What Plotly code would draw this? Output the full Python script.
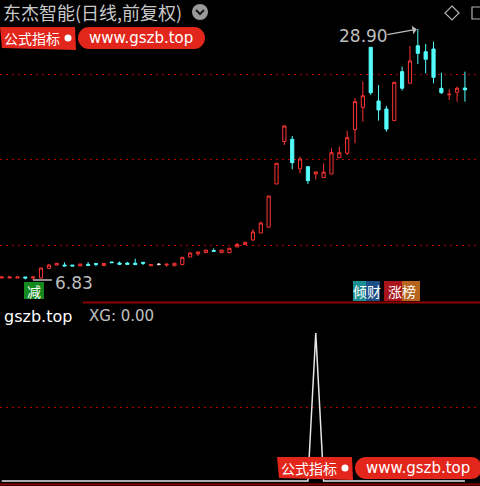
import plotly.graph_objects as go

W, H = 480, 486

# ---------------- data ----------------
candle_idx = list(range(60))
opens = [7.00, 7.00, 7.00, 7.09, 7.00, 7.00, 7.85, 8.14, 8.14, 8.14,
         8.06, 8.20, 8.28, 8.10, 8.41, 8.32, 8.32, 8.30, 8.38, 8.08,
         8.20, 8.14, 8.08, 8.18, 8.85, 9.12, 9.23, 9.42, 9.23, 9.23,
         9.73, 9.95, 10.34, 10.96, 11.47, 15.27, 19.00, 19.20, 16.60, 16.79,
         16.15, 15.83, 16.15, 17.58, 17.97, 20.05, 22.01, 27.29, 22.57, 21.86,
         20.84, 25.15, 24.13, 27.43, 26.90, 27.14, 23.68, 23.12, 23.34, 23.71]
highs = [7.09, 7.09, 7.09, 7.09, 7.09, 7.88, 8.23, 8.32, 8.38, 8.14,
         8.23, 8.41, 8.28, 8.28, 8.41, 8.45, 8.41, 8.70, 8.40, 8.18,
         8.32, 8.22, 8.30, 8.85, 9.25, 9.32, 9.46, 9.60, 9.46, 9.62,
         10.10, 10.17, 11.30, 11.95, 14.21, 17.09, 20.43, 19.49, 17.67, 16.79,
         16.33, 17.09, 18.41, 18.55, 19.96, 22.81, 24.27, 27.29, 23.97, 22.13,
         24.21, 25.59, 27.40, 28.90, 27.58, 27.78, 25.06, 23.60, 23.83, 25.15]
lows = [7.00, 7.00, 7.00, 6.88, 6.83, 6.95, 7.79, 8.14, 8.06, 8.06,
        8.06, 8.10, 8.03, 8.10, 8.35, 8.18, 8.18, 8.16, 8.14, 8.08,
        8.10, 7.99, 8.08, 8.14, 8.85, 8.96, 9.23, 9.35, 9.23, 9.23,
        9.73, 9.95, 10.30, 10.96, 11.47, 15.27, 18.70, 16.56, 16.21, 15.27,
        15.68, 15.83, 16.15, 17.58, 17.82, 18.85, 20.75, 23.10, 20.84, 19.87,
        20.84, 23.48, 24.13, 25.82, 25.00, 24.12, 23.18, 22.66, 22.51, 22.51]
closes = [7.09, 7.09, 7.09, 7.00, 7.09, 7.88, 8.14, 8.28, 8.06, 8.06,
          8.23, 8.10, 8.20, 8.28, 8.35, 8.20, 8.20, 8.18, 8.30, 8.18,
          8.20, 8.22, 8.30, 8.82, 9.20, 9.29, 9.46, 9.35, 9.46, 9.62,
          9.95, 10.15, 11.05, 11.84, 14.21, 17.09, 20.37, 17.14, 17.47, 15.56,
          16.33, 16.31, 18.02, 18.02, 19.34, 22.51, 23.03, 23.30, 21.78, 20.10,
          24.21, 23.69, 26.09, 26.76, 26.24, 24.65, 23.30, 23.16, 23.69, 23.55]
xg_values = [0, 0, 0, 0, 0, 0, 0, 0, 0, 0,
             0, 0, 0, 0, 0, 0, 0, 0, 0, 0,
             0, 0, 0, 0, 0, 0, 0, 0, 0, 0,
             0, 0, 0, 0, 0, 0, 0, 0, 0, 0,
             100, 0, 0, 0, 0, 0, 0, 0, 0, 0,
             0, 0, 0, 0, 0, 0, 0, 0, 0, 0]
price_grid = [9.90, 17.38, 24.94]
xg_grid = [50]
high_label = "28.90"
low_label = "6.83"
title_text = "东杰智能(日线,前复权)"
xg_label = "XG: 0.00"

# ---------------- styles ----------------
RED = "#FF3434"
CYAN = "#54FCFC"
BANNER = "#E3261B"
GRID = "#B40000"
CJK = "Noto Sans CJK SC"


def px(x):
    return x / W


def py(y):
    return 1 - y / H


X_RANGE = [-0.223, 60.92]
UP_RANGE = [4.89, 31.45]
LO_RANGE = [-3.38, 120.27]

is_doji = [o == c for o, c in zip(opens, closes)]


def pick(vals, keep):
    return [v if k else None for v, k in zip(vals, keep)]


normal = [not d for d in is_doji]

fig = go.Figure()
fig.add_trace(go.Candlestick(
    x=candle_idx,
    open=pick(opens, normal), high=pick(highs, normal),
    low=pick(lows, normal), close=pick(closes, normal),
    increasing=dict(line=dict(color=RED, width=1), fillcolor="black"),
    decreasing=dict(line=dict(color=CYAN, width=1), fillcolor=CYAN),
    whiskerwidth=0, xaxis="x", yaxis="y", showlegend=False, hoverinfo="skip"))
fig.add_trace(go.Candlestick(
    x=candle_idx,
    open=pick(opens, is_doji), high=pick(highs, is_doji),
    low=pick(lows, is_doji), close=pick(closes, is_doji),
    increasing=dict(line=dict(color="#E8E8E8", width=1), fillcolor="#E8E8E8"),
    decreasing=dict(line=dict(color="#E8E8E8", width=1), fillcolor="#E8E8E8"),
    whiskerwidth=0, xaxis="x", yaxis="y", showlegend=False, hoverinfo="skip"))

fig.add_trace(go.Scatter(
    x=candle_idx, y=xg_values, mode="lines",
    line=dict(color="#E6E6E6", width=1.5),
    xaxis="x2", yaxis="y2", showlegend=False, hoverinfo="skip"))

shapes = []
# separator line between panels
shapes.append(dict(type="line", xref="paper", yref="paper",
                   x0=px(83), x1=px(480), y0=py(302.5), y1=py(302.5),
                   line=dict(color="#8B0000", width=2)))
# bottom border
shapes.append(dict(type="line", xref="paper", yref="paper",
                   x0=0, x1=1, y0=py(484.5), y1=py(484.5),
                   line=dict(color="#8B0000", width=2)))


def banner(x0, y0):
    # left block "公式指标 ●" and pill "www.gszb.top"
    s = []
    s.append(dict(type="path", xref="paper", yref="paper",
                  path=f"M {px(x0)},{py(y0)} L {px(x0+75)},{py(y0)} L {px(x0+76)},{py(y0+23)} "
                       f"L {px(x0+2)},{py(y0+21)} Z",
                  fillcolor=BANNER, line=dict(width=0)))
    s.append(dict(type="circle", xref="paper", yref="paper",
                  x0=px(x0+64.5), x1=px(x0+71.5), y0=py(y0+7.5), y1=py(y0+14.5),
                  fillcolor="white", line=dict(width=0)))
    r = 11
    a, b = x0 + 78, x0 + 205
    s.append(dict(type="rect", xref="paper", yref="paper",
                  x0=px(a + r), x1=px(b - r), y0=py(y0), y1=py(y0 + 2 * r),
                  fillcolor=BANNER, line=dict(width=0)))
    s.append(dict(type="circle", xref="paper", yref="paper",
                  x0=px(a), x1=px(a + 2 * r), y0=py(y0), y1=py(y0 + 2 * r),
                  fillcolor=BANNER, line=dict(width=0)))
    s.append(dict(type="circle", xref="paper", yref="paper",
                  x0=px(b - 2 * r), x1=px(b), y0=py(y0), y1=py(y0 + 2 * r),
                  fillcolor=BANNER, line=dict(width=0)))
    return s


shapes += banner(0, 27)
shapes += banner(277, 457)

# title chevron circle
shapes.append(dict(type="circle", xref="paper", yref="paper",
                   x0=px(192), x1=px(208), y0=py(4), y1=py(20),
                   fillcolor="#9A9A9A", line=dict(width=0)))
shapes.append(dict(type="path", xref="paper", yref="paper",
                   path=f"M {px(196)},{py(10)} L {px(200)},{py(14)} L {px(204)},{py(10)}",
                   line=dict(color="#1A1A1A", width=2)))
# top-right icons
shapes.append(dict(type="path", xref="paper", yref="paper",
                   path=f"M {px(452)},{py(6)} L {px(459)},{py(13)} L {px(452)},{py(20)} L {px(445)},{py(13)} Z",
                   line=dict(color="#B0B0B0", width=1.2)))
shapes.append(dict(type="rect", xref="paper", yref="paper",
                   x0=px(472), x1=px(484), y0=py(7), y1=py(19),
                   line=dict(color="#B0B0B0", width=1.2)))
# low label leader
shapes.append(dict(type="line", xref="paper", yref="paper",
                   x0=px(33), x1=px(52), y0=py(280), y1=py(280),
                   line=dict(color="#BEBEBE", width=1.5)))
# badges
shapes.append(dict(type="rect", xref="paper", yref="paper",
                   x0=px(24), x1=px(44), y0=py(282), y1=py(299),
                   fillcolor="#138A1E", line=dict(width=0)))
shapes.append(dict(type="rect", xref="paper", yref="paper",
                   x0=px(353), x1=px(366), y0=py(281), y1=py(301),
                   fillcolor="#1B8F93", line=dict(width=0)))
shapes.append(dict(type="rect", xref="paper", yref="paper",
                   x0=px(366), x1=px(380), y0=py(281), y1=py(301),
                   fillcolor="#1C4F86", line=dict(width=0)))
shapes.append(dict(type="rect", xref="paper", yref="paper",
                   x0=px(384), x1=px(402), y0=py(281), y1=py(301),
                   fillcolor="#A8141A", line=dict(width=0)))
shapes.append(dict(type="rect", xref="paper", yref="paper",
                   x0=px(402), x1=px(420), y0=py(281), y1=py(301),
                   fillcolor="#B5651D", line=dict(width=0)))

ann = []


def text(x, y, s, size, color, family=CJK, anchor="left"):
    ann.append(dict(xref="paper", yref="paper", x=px(x), y=py(y), text=s,
                    showarrow=False, xanchor=anchor, yanchor="middle",
                    font=dict(family=family, size=size, color=color)))


text(1, 12, title_text, 18, "#C8C8C8")
text(2, 37.5, "公式指标", 14, "white")
text(141, 38, "www.gszb.top", 15, "white", family="DejaVu Sans", anchor="center")
text(279, 467.5, "公式指标", 14, "white")
text(418, 468, "www.gszb.top", 15, "white", family="DejaVu Sans", anchor="center")
text(337, 36, high_label, 17, "#BDBDBD", family="DejaVu Sans")
text(53, 283, low_label, 17, "#BDBDBD", family="DejaVu Sans")
text(34, 290.5, "减", 14, "white", anchor="center")
text(366.5, 291, "倾财", 14, "white", anchor="center")
text(402, 291, "涨榜", 14, "white", anchor="center")
text(2, 316, "gszb.top", 16, "white", family="DejaVu Sans")
text(87, 316, xg_label, 15, "#C0C0C0", family="DejaVu Sans")

# arrow to high
ann.append(dict(xref="x", yref="y", x=candle_idx[53], y=highs[53],
                ax=-32, ay=6, axref="pixel", ayref="pixel", text="",
                showarrow=True, arrowhead=1, arrowsize=1.2, arrowwidth=1.2,
                arrowcolor="#BDBDBD", standoff=1))

fig.update_layout(
    width=W, height=H, margin=dict(l=0, r=0, t=0, b=0),
    paper_bgcolor="black", plot_bgcolor="black",
    boxgap=0.42,
    xaxis=dict(domain=[0, 1], range=X_RANGE, visible=False, rangeslider=dict(visible=False),
               anchor="y"),
    yaxis=dict(domain=[py(302), 1], range=UP_RANGE, tickvals=price_grid, showticklabels=False,
               showgrid=True, gridcolor=GRID, griddash="2px,4px", gridwidth=1,
               zeroline=False, showline=False, anchor="x"),
    xaxis2=dict(domain=[0, 1], range=X_RANGE, visible=False, anchor="y2"),
    yaxis2=dict(domain=[0, py(303)], range=LO_RANGE, tickvals=xg_grid, showticklabels=False,
                showgrid=True, gridcolor=GRID, griddash="2px,4px", gridwidth=1,
                zeroline=False, showline=False, anchor="x2"),
    shapes=shapes, annotations=ann,
)

fig.write_html("out.html",
               config={"displayModeBar": False, "staticPlot": True},
               post_script="document.body.style.margin='0';"
                           "document.body.style.background='black';"
                           "document.body.style.overflow='hidden';")
